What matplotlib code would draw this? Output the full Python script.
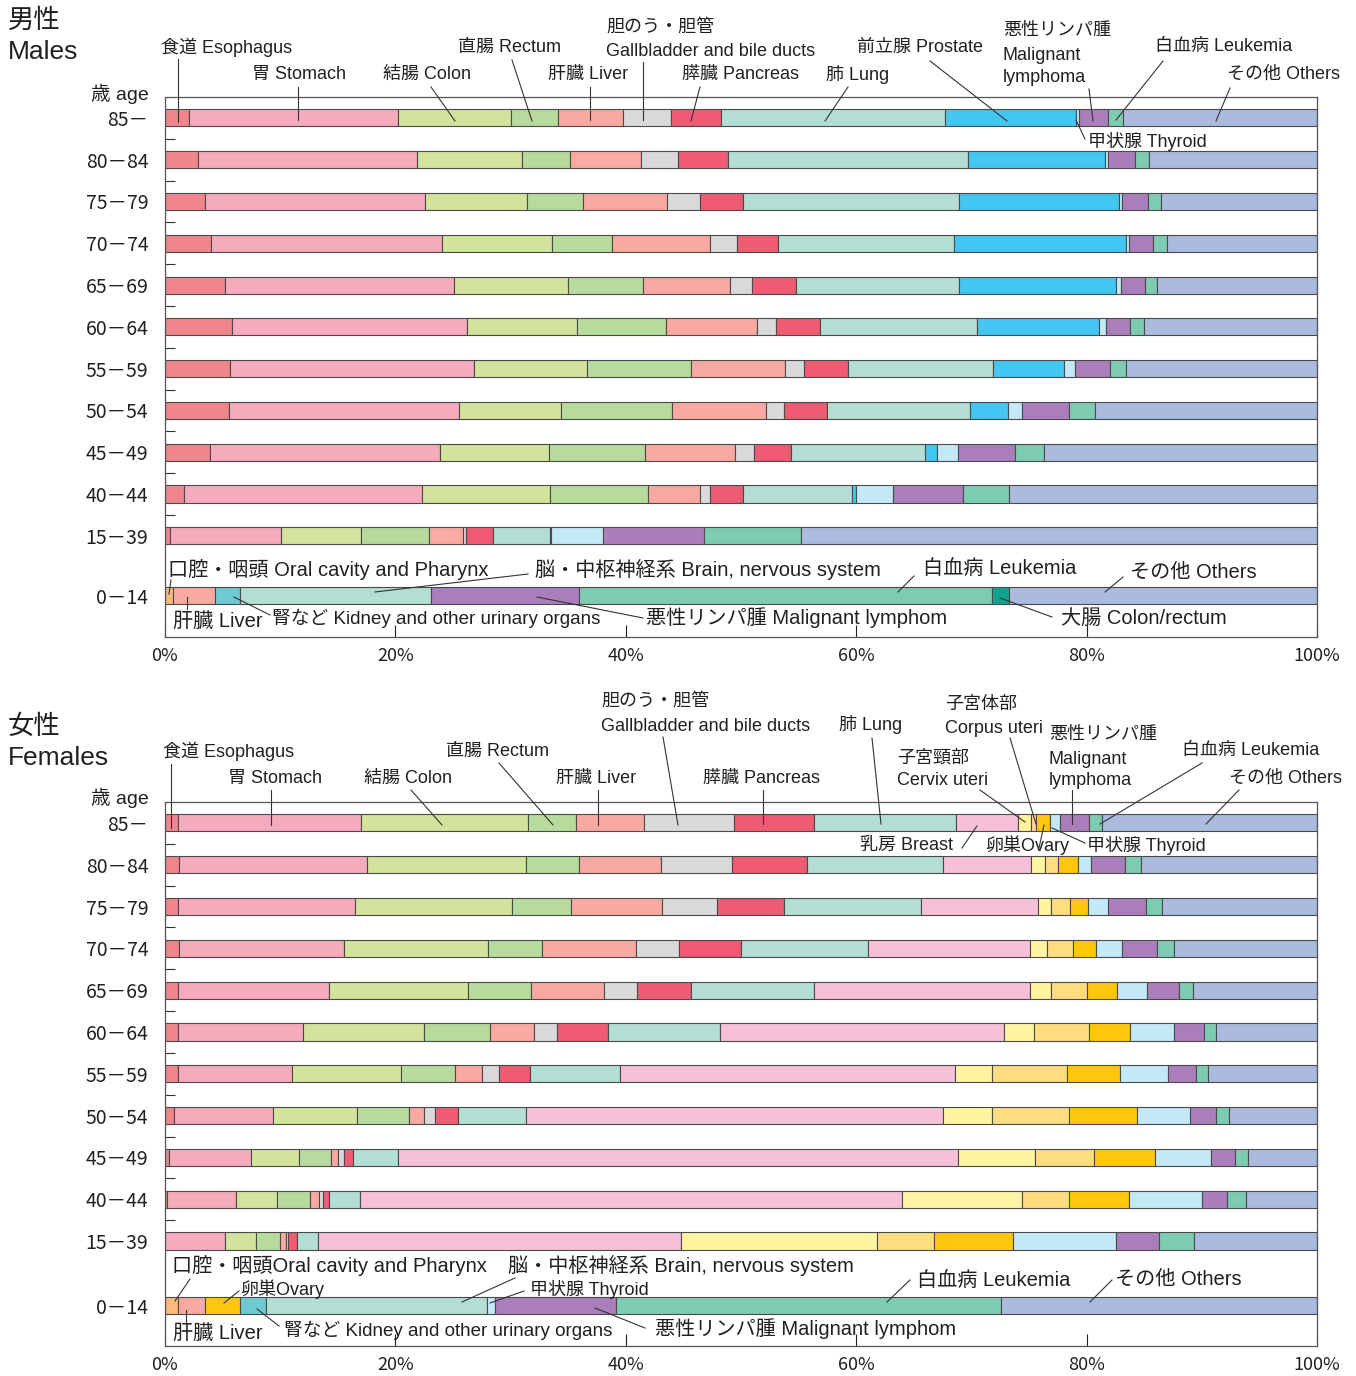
import matplotlib
matplotlib.use('Agg')
import matplotlib.pyplot as plt
from matplotlib.lines import Line2D

plt.rcParams['font.family'] = ['Noto Sans CJK JP', 'DejaVu Sans']
plt.rcParams['axes.unicode_minus'] = False

# ---------------- data ----------------
AGES = ['85－', '80－84', '75－79', '70－74', '65－69', '60－64', '55－59',
        '50－54', '45－49', '40－44', '15－39']
CHILD_AGE = '0－14'
PCT_TICKS = [0, 20, 40, 60, 80, 100]
PCT_LABELS = ['0%', '20%', '40%', '60%', '80%', '100%']

# Males (share of cancer deaths, %)
M_ESOPHAGUS = [2.1, 2.85, 3.45, 4.0, 5.2, 5.8, 5.65, 5.55, 3.9, 1.65, 0.4]
M_STOMACH = [18.1, 19.0, 19.1, 20.1, 19.9, 20.45, 21.2, 20.0, 20.0, 20.7, 9.65]
M_COLON = [9.8, 9.1, 8.9, 9.55, 9.9, 9.55, 9.75, 8.8, 9.4, 11.1, 6.95]
M_RECTUM = [4.1, 4.2, 4.8, 5.15, 6.5, 7.7, 9.1, 9.7, 8.4, 8.5, 5.95]
M_LIVER = [5.65, 6.2, 7.3, 8.5, 7.55, 7.85, 8.1, 8.1, 7.8, 4.45, 2.9]
M_GALLBLADDER = [4.2, 3.2, 2.85, 2.4, 1.9, 1.65, 1.7, 1.6, 1.6, 0.9, 0.3]
M_PANCREAS = [4.3, 4.3, 3.8, 3.5, 3.8, 3.9, 3.8, 3.75, 3.2, 2.85, 2.3]
M_LUNG = [19.45, 20.85, 18.7, 15.35, 14.2, 13.6, 12.6, 12.4, 11.7, 9.45, 4.95]
M_PROSTATE = [11.4, 11.9, 13.9, 14.9, 13.6, 10.55, 6.1, 3.3, 1.0, 0.4, 0.15]
M_THYROID = [0.2, 0.25, 0.3, 0.3, 0.45, 0.65, 1.0, 1.2, 1.8, 3.2, 4.45]
M_LYMPHOMA = [2.6, 2.35, 2.2, 2.1, 2.1, 2.1, 3.0, 4.1, 5.0, 6.1, 8.8]
M_LEUKEMIA = [1.3, 1.2, 1.2, 1.2, 1.0, 1.2, 1.4, 2.2, 2.5, 4.0, 8.4]
M_OTHERS = [16.8, 14.6, 13.5, 13.0, 13.9, 15.0, 16.6, 19.3, 23.7, 26.7, 44.8]

M_CHILD_CATS = ['oral', 'liver', 'kidney', 'brain', 'lymphoma', 'leukemia',
                'colorectum', 'others']
M_CHILD_VALS = [0.7, 3.65, 2.15, 16.6, 12.8, 35.9, 1.45, 26.75]

# Females
F_ESOPHAGUS = [1.1, 1.25, 1.1, 1.25, 1.1, 1.15, 1.1, 0.75, 0.35, 0.2, 0.0]
F_STOMACH = [15.9, 16.3, 15.35, 14.3, 13.1, 10.8, 9.9, 8.6, 7.1, 5.95, 5.2]
F_COLON = [14.5, 13.8, 13.65, 12.5, 12.1, 10.5, 9.5, 7.3, 4.15, 3.6, 2.7]
F_RECTUM = [4.2, 4.6, 5.1, 4.65, 5.5, 5.75, 4.7, 4.5, 2.8, 2.8, 2.1]
F_LIVER = [5.9, 7.1, 7.9, 8.2, 6.3, 3.85, 2.3, 1.3, 0.65, 0.8, 0.5]
F_GALLBLADDER = [7.75, 6.15, 4.8, 3.7, 2.9, 2.0, 1.5, 1.0, 0.5, 0.4, 0.2]
F_PANCREAS = [6.95, 6.55, 5.8, 5.4, 4.7, 4.4, 2.7, 1.95, 0.8, 0.5, 0.8]
F_LUNG = [12.35, 11.8, 11.9, 11.0, 10.6, 9.75, 7.8, 5.95, 3.9, 2.65, 1.75]
F_BREAST = [5.4, 7.6, 10.15, 14.1, 18.8, 24.6, 29.05, 36.15, 48.55, 47.1, 31.6]
F_CERVIX = [1.1, 1.2, 1.15, 1.5, 1.8, 2.6, 3.25, 4.3, 6.7, 10.4, 17.0]
F_CORPUS = [0.5, 1.2, 1.7, 2.25, 3.1, 4.8, 6.5, 6.7, 5.1, 4.1, 4.95]
F_OVARY = [1.2, 1.7, 1.55, 1.95, 2.6, 3.55, 4.6, 5.85, 5.3, 5.15, 6.85]
F_THYROID = [0.8, 1.1, 1.75, 2.25, 2.6, 3.85, 4.2, 4.6, 4.9, 6.4, 8.95]
F_LYMPHOMA = [2.6, 3.0, 3.25, 3.1, 2.8, 2.6, 2.4, 2.3, 2.1, 2.1, 3.75]
F_LEUKEMIA = [1.1, 1.4, 1.4, 1.4, 1.2, 1.0, 1.05, 1.15, 1.1, 1.7, 3.0]
F_OTHERS = [18.65, 15.25, 13.45, 12.45, 10.8, 8.8, 9.45, 7.6, 6.0, 6.15, 10.7]

F_CHILD_CATS = ['oral', 'liver', 'ovary', 'kidney', 'brain', 'thyroid',
                'lymphoma', 'leukemia', 'others']
F_CHILD_VALS = [1.1, 2.35, 3.05, 2.25, 19.2, 0.7, 10.5, 33.4, 27.45]

# ---------------- style ----------------
COLORS = {
    'esophagus': '#F0868C', 'stomach': '#F5ABBC', 'colon': '#D2E49C',
    'rectum': '#B7DB9D', 'liver': '#F8AAA0', 'gallbladder': '#D9D9DB',
    'pancreas': '#EE5B73', 'lung': '#B2DED4', 'prostate': '#43C6F1',
    'thyroid': '#C5E8F7', 'lymphoma': '#A97EBB', 'leukemia': '#7ECBB3',
    'others': '#ABBBDF', 'breast': '#F6C0D7', 'cervix': '#FFF5A1',
    'corpus': '#FFDC80', 'ovary': '#FFC70B', 'oral': '#FBB97B',
    'kidney': '#6DCAD1', 'brain': '#B2DED4', 'colorectum': '#11A38E',
}
EDGE = '#4a4a4a'
TXT = '#231F20'
BAR_H = 0.41
LAB_FAM = ['Liberation Sans', 'Noto Sans CJK JP', 'DejaVu Sans']

MALE_SERIES = [('esophagus', M_ESOPHAGUS), ('stomach', M_STOMACH), ('colon', M_COLON),
               ('rectum', M_RECTUM), ('liver', M_LIVER), ('gallbladder', M_GALLBLADDER),
               ('pancreas', M_PANCREAS), ('lung', M_LUNG), ('prostate', M_PROSTATE),
               ('thyroid', M_THYROID), ('lymphoma', M_LYMPHOMA), ('leukemia', M_LEUKEMIA),
               ('others', M_OTHERS)]
FEMALE_SERIES = [('esophagus', F_ESOPHAGUS), ('stomach', F_STOMACH), ('colon', F_COLON),
                 ('rectum', F_RECTUM), ('liver', F_LIVER), ('gallbladder', F_GALLBLADDER),
                 ('pancreas', F_PANCREAS), ('lung', F_LUNG), ('breast', F_BREAST),
                 ('cervix', F_CERVIX), ('corpus', F_CORPUS), ('ovary', F_OVARY),
                 ('thyroid', F_THYROID), ('lymphoma', F_LYMPHOMA), ('leukemia', F_LEUKEMIA),
                 ('others', F_OTHERS)]

W, H = 1356, 1376
fig = plt.figure(figsize=(W / 100, H / 100), dpi=100)


def stacked_row(ax, y, names, vals):
    total = sum(vals)
    left = 0.0
    for name, v in zip(names, vals):
        w = v / total * 100.0
        if w > 0:
            ax.barh(y, w, left=left, height=BAR_H, color=COLORS[name],
                    edgecolor=EDGE, linewidth=0.8, zorder=2)
        left += w


def draw_panel(ax, series, child_cats, child_vals, child_y, ybottom):
    names = [n for n, _ in series]
    for i in range(len(AGES)):
        stacked_row(ax, i, names, [vals[i] for _, vals in series])
    stacked_row(ax, child_y, child_cats, child_vals)
    ax.set_xlim(0, 100)
    ax.set_ylim(ybottom, -0.5)
    ax.set_xticks(PCT_TICKS)
    ax.set_xticklabels(PCT_LABELS)
    ax.tick_params(axis='x', direction='in', length=9, width=0.8, pad=7,
                   labelsize=13, colors=TXT)
    ax.set_yticks(list(range(len(AGES))) + [child_y])
    ax.set_yticklabels(AGES + [CHILD_AGE])
    ax.tick_params(axis='y', which='major', length=0, pad=12, labelsize=14,
                   labelcolor=TXT)
    ax.set_yticks([i + 0.5 for i in range(len(AGES) - 1)], minor=True)
    ax.tick_params(axis='y', which='minor', direction='in', length=7, width=0.8,
                   color='#333')
    for sp in ax.spines.values():
        sp.set_color('#555')
        sp.set_linewidth(0.9)


ax_m = fig.add_axes([165 / W, 1 - 637 / H, 1152 / W, 540 / H])
draw_panel(ax_m, MALE_SERIES, M_CHILD_CATS, M_CHILD_VALS, 11.43, 12.42)
ax_f = fig.add_axes([165 / W, 1 - 1346 / H, 1152 / W, 544 / H])
draw_panel(ax_f, FEMALE_SERIES, F_CHILD_CATS, F_CHILD_VALS, 11.55, 12.51)


def ftxt(x, y, s, size=13, ha='left'):
    fig.text(x / W, 1 - y / H, s, fontsize=size, ha=ha, va='center', color=TXT,
             family=LAB_FAM)


def fline(x0, y0, x1, y1):
    fig.add_artist(Line2D([x0 / W, x1 / W], [1 - y0 / H, 1 - y1 / H],
                          transform=fig.transFigure, color='#333', lw=0.8,
                          zorder=5))


TOP = 13
CHILD = 14.5
KID = 13.5

# ---------- male labels ----------
ftxt(8, 21, '男性', 19)
ftxt(8, 52, 'Males', 19)
ftxt(149, 94, '歳 age', 14, ha='right')

for s, x, y in [('食道 Esophagus', 161, 47), ('胃 Stomach', 252, 74),
                ('結腸 Colon', 383, 74), ('直腸 Rectum', 458, 47),
                ('肝臓 Liver', 548, 74), ('胆のう・胆管', 606, 27),
                ('Gallbladder and bile ducts', 606, 51), ('膵臓 Pancreas', 682, 74),
                ('肺 Lung', 826, 74), ('前立腺 Prostate', 857, 47),
                ('悪性リンパ腫', 1003, 30), ('Malignant', 1003, 55),
                ('lymphoma', 1003, 78), ('白血病 Leukemia', 1155, 47),
                ('その他 Others', 1227, 74), ('甲状腺 Thyroid', 1088, 141)]:
    ftxt(x, y, s, TOP)

for ln in [(178, 59, 178, 122), (298, 87, 298, 120), (431, 87, 455, 121),
           (512, 60, 532, 121), (590, 87, 590, 120), (643, 62, 643, 120),
           (700, 87, 691, 121), (848, 87, 825, 121), (930, 61, 1007, 121),
           (1089, 89, 1093, 121), (1163, 61, 1116, 120), (1230, 88, 1216, 121),
           (1076, 120, 1085, 139)]:
    fline(*ln)

for s, x, y, sz in [('口腔・咽頭 Oral cavity and Pharynx', 168, 569, CHILD),
                    ('脳・中枢神経系 Brain, nervous system', 535, 569, CHILD),
                    ('白血病 Leukemia', 923, 569, CHILD),
                    ('その他 Others', 1130, 572, CHILD),
                    ('肝臓 Liver', 173, 621, CHILD),
                    ('腎など Kidney and other urinary organs', 272, 618, KID),
                    ('悪性リンパ腫 Malignant lymphom', 646, 618, CHILD),
                    ('大腸 Colon/rectum', 1061, 618, CHILD)]:
    ftxt(x, y, s, sz)

for ln in [(171, 580, 169, 594), (528, 574, 375, 592), (914, 576, 898, 592),
           (1123, 577, 1105, 592), (187, 597, 187, 609), (234, 597, 270, 615),
           (537, 597, 643, 618), (1000, 598, 1052, 617)]:
    fline(*ln)

# ---------- female labels ----------
ftxt(8, 727, '女性', 19)
ftxt(8, 758, 'Females', 19)
ftxt(149, 798, '歳 age', 14, ha='right')

for s, x, y in [('食道 Esophagus', 163, 751), ('胃 Stomach', 228, 778),
                ('結腸 Colon', 364, 778), ('直腸 Rectum', 446, 751),
                ('肝臓 Liver', 556, 778), ('胆のう・胆管', 601, 701),
                ('Gallbladder and bile ducts', 601, 726), ('膵臓 Pancreas', 703, 778),
                ('肺 Lung', 839, 724), ('子宮頸部', 897, 758), ('Cervix uteri', 897, 781),
                ('子宮体部', 945, 704), ('Corpus uteri', 945, 728),
                ('悪性リンパ腫', 1049, 734), ('Malignant', 1049, 759),
                ('lymphoma', 1049, 781), ('白血病 Leukemia', 1182, 751),
                ('その他 Others', 1229, 778), ('乳房 Breast', 860, 845),
                ('卵巣Ovary', 985, 845), ('甲状腺 Thyroid', 1087, 845)]:
    ftxt(x, y, s, TOP)

for ln in [(171, 764, 171, 828), (271, 790, 271, 825), (411, 790, 442, 825),
           (499, 763, 553, 825), (598, 790, 598, 825), (663, 737, 678, 825),
           (763, 790, 763, 824), (872, 738, 881, 824), (980, 790, 1025, 822),
           (1010, 738, 1036, 824), (1072, 790, 1072, 824), (1202, 763, 1100, 824),
           (1239, 790, 1206, 824), (977, 826, 962, 848), (1044, 825, 1039, 848),
           (1052, 828, 1085, 843)]:
    fline(*ln)

for s, x, y, sz in [('口腔・咽頭Oral cavity and Pharynx', 172, 1265, CHILD),
                    ('卵巣Ovary', 240, 1289, TOP),
                    ('脳・中枢神経系 Brain, nervous system', 508, 1265, CHILD),
                    ('甲状腺 Thyroid', 530, 1289, TOP),
                    ('白血病 Leukemia', 917, 1280, CHILD),
                    ('その他 Others', 1115, 1279, CHILD),
                    ('肝臓 Liver', 173, 1333, CHILD),
                    ('腎など Kidney and other urinary organs', 284, 1330, KID),
                    ('悪性リンパ腫 Malignant lymphom', 655, 1329, CHILD)]:
    ftxt(x, y, s, sz)

for ln in [(190, 1279, 175, 1301), (239, 1291, 224, 1303), (515, 1278, 462, 1302),
           (524, 1291, 490, 1303), (910, 1280, 887, 1302), (1112, 1280, 1090, 1302),
           (186, 1310, 186, 1323), (257, 1309, 279, 1326), (595, 1308, 645, 1328)]:
    fline(*ln)

fig.savefig('out.png', dpi=100)
